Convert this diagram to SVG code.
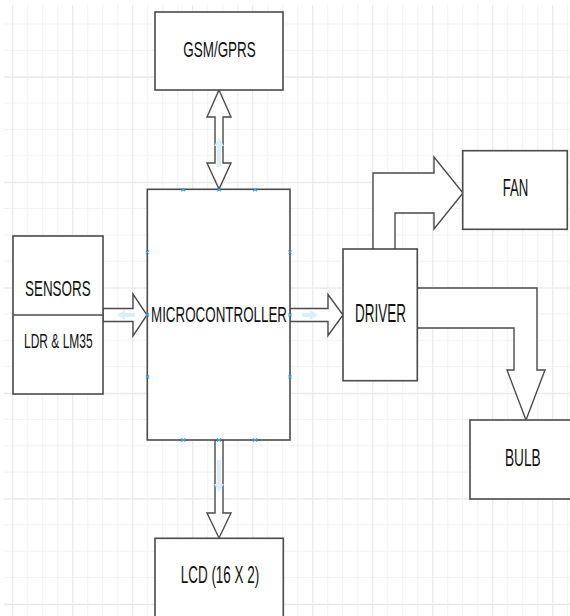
<svg xmlns="http://www.w3.org/2000/svg" width="570" height="616" viewBox="0 0 570 616">
<defs>
<pattern id="minor" patternUnits="userSpaceOnUse" x="12.2" y="23.5" width="15" height="26.36">
<path d="M0.5,0 V26.36 M0,0.5 H15" fill="none" stroke="#f2f2f2" stroke-width="1"/>
</pattern>
<pattern id="major" patternUnits="userSpaceOnUse" x="12.2" y="76.8" width="60" height="105.44">
<path d="M0.5,0 V105.44 M0,0.5 H60" fill="none" stroke="#e8e8e8" stroke-width="1"/>
</pattern>
</defs>
<style>
.box{fill:#ffffff;stroke:#4a4a4a;stroke-width:1.6}
.arr{fill:#ffffff;stroke:#4a4a4a;stroke-width:1.4;stroke-linejoin:miter}
.lbl{font-family:"Liberation Sans",Arial,sans-serif;fill:#111111}
.hl{fill:#d6ecf8;stroke:none;opacity:0.9}
.mk{stroke:#3aa7e0;stroke-width:1.2;fill:none}
</style>
<rect x="0" y="0" width="570" height="616" fill="#ffffff"/>
<rect x="4" y="5" width="566" height="611" fill="url(#minor)"/>
<rect x="4" y="5" width="566" height="611" fill="url(#major)"/>

<g id="connectors">
<path class="arr" d="M219,90 L231,117 L223,117 L223,163 L231,163 L219,189 L207,163 L215,163 L215,117 L207,117 Z"/>
<path class="arr" d="M215,440 L223,440 L223,513 L231,513 L219,538 L207,513 L215,513 Z"/>
<path class="arr" d="M103,308.5 L133,308.5 L133,294 L147,315 L133,336 L133,321.5 L103,321.5 Z"/>
<path class="arr" d="M290,308.5 L328,308.5 L328,294.5 L343,315 L328,335.5 L328,321.5 L290,321.5 Z"/>
<path class="arr" d="M373,249 L373,173 L434,173 L434,157 L463,193 L434,229 L434,213 L395,213 L395,249"/>
<path class="arr" d="M417,288 L537,288 L537,370 L545,370 L526,420 L507,370 L514,370 L514,328 L417,328"/>
<path class="hl" d="M219,138 L224,146 L221,146 L221,167 L217,167 L217,146 L214,146 Z"/>
<path class="hl" d="M219,492 L224,484 L221,484 L221,460 L217,460 L217,484 L214,484 Z"/>
<path class="hl" d="M117,315 L125,310 L125,313 L135,313 L135,317 L125,317 L125,320 Z"/>
<path class="hl" d="M318,315 L310,310 L310,313 L302,313 L302,317 L310,317 L310,320 Z"/>
</g>

<g id="gsm">
<rect class="box" x="155" y="12" width="128" height="78"/>
<text class="lbl" transform="translate(183.3,56.7) scale(0.6,1)" x="0" y="0" font-size="22" textLength="120.7" lengthAdjust="spacingAndGlyphs">GSM/GPRS</text>
</g>

<g id="sensors">
<rect class="box" x="13" y="236" width="90" height="158"/>
<line x1="13" y1="315" x2="103" y2="315" stroke="#4a4a4a" stroke-width="1.6"/>
<text class="lbl" transform="translate(25,296) scale(0.6,1)" x="0" y="0" font-size="22" textLength="109.5" lengthAdjust="spacingAndGlyphs">SENSORS</text>
<text class="lbl" transform="translate(24,348) scale(0.6,1)" x="0" y="0" font-size="21" textLength="114.5" lengthAdjust="spacingAndGlyphs">LDR &amp; LM35</text>
</g>

<g id="microcontroller">
<rect class="box" x="147.3" y="189.3" width="142.7" height="250.7"/>
<text class="lbl" transform="translate(151,322) scale(0.6,1)" x="0" y="0" font-size="22" textLength="226.7" lengthAdjust="spacingAndGlyphs">MICROCONTROLLER</text>
<g class="mk">
<path d="M181.3,188.3 l4,3 M185.3,188.3 l-4,3 M217,188.3 l4,3 M221,188.3 l-4,3 M253,188.3 l4,3 M257,188.3 l-4,3"/>
<path d="M181.3,438.5 l4,3 M185.3,438.5 l-4,3 M217,438.5 l4,3 M221,438.5 l-4,3 M253,438.5 l4,3 M257,438.5 l-4,3"/>
<path d="M146,250.5 l3,3 M149,250.5 l-3,3 M146,313.5 l3,3 M149,313.5 l-3,3 M146,375.5 l3,3 M149,375.5 l-3,3"/>
<path d="M288.5,250.5 l3,3 M291.5,250.5 l-3,3 M288.5,313.5 l3,3 M291.5,313.5 l-3,3 M288.5,375.5 l3,3 M291.5,375.5 l-3,3"/>
</g>
</g>

<g id="driver">
<rect class="box" x="343" y="249" width="74.3" height="131.7"/>
<text class="lbl" transform="translate(355,321.7) scale(0.6,1)" x="0" y="0" font-size="25" textLength="85" lengthAdjust="spacingAndGlyphs">DRIVER</text>
</g>

<g id="fan">
<rect class="box" x="462.7" y="150.7" width="104.6" height="78.6"/>
<text class="lbl" transform="translate(502.7,196) scale(0.6,1)" x="0" y="0" font-size="24.5" textLength="42.7" lengthAdjust="spacingAndGlyphs">FAN</text>
</g>

<g id="bulb">
<rect class="box" x="470" y="420" width="110" height="79"/>
<text class="lbl" transform="translate(505,465.7) scale(0.6,1)" x="0" y="0" font-size="24" textLength="59.5" lengthAdjust="spacingAndGlyphs">BULB</text>
</g>

<g id="lcd">
<rect class="box" x="155" y="538.3" width="128.3" height="90"/>
<text class="lbl" transform="translate(180.7,583.3) scale(0.6,1)" x="0" y="0" font-size="23" textLength="131" lengthAdjust="spacingAndGlyphs">LCD (16 X 2)</text>
</g>
</svg>
